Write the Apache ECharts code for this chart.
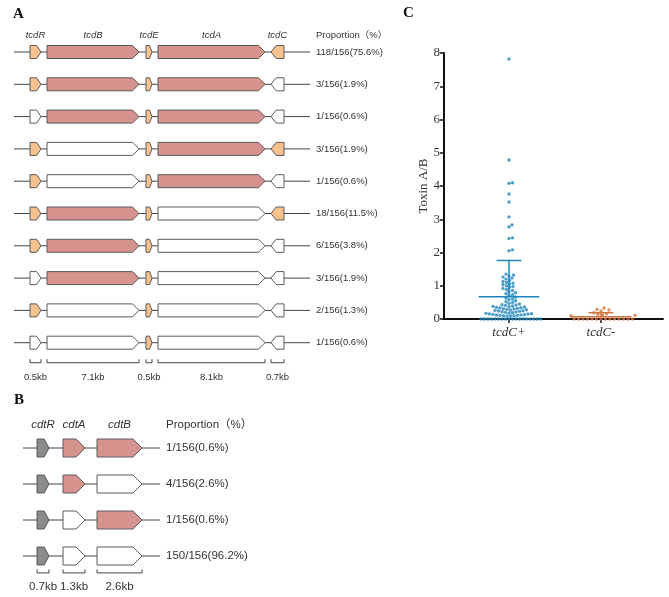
<!DOCTYPE html>
<html><head><meta charset="utf-8">
<script src="https://cdn.jsdelivr.net/npm/echarts@6/dist/echarts.min.js"></script>
<style>html,body{margin:0;padding:0;background:#fff}#c{width:669px;height:597px}</style>
</head><body><div id="c"></div>
<script>
// ---------- Panel A: tcd locus ----------
const tcdGenes = ['tcdR', 'tcdB', 'tcdE', 'tcdA', 'tcdC'];
const tcdSizes = ['0.5kb', '7.1kb', '0.5kb', '8.1kb', '0.7kb'];
const tcdKind = ['reg', 'toxin', 'reg', 'toxin', 'reg'];
const tcdStrand = [1, 1, 1, 1, -1];
const tcdProportion = ['118/156(75.6%)', '3/156(1.9%)', '1/156(0.6%)', '3/156(1.9%)', '1/156(0.6%)',
  '18/156(11.5%)', '6/156(3.8%)', '3/156(1.9%)', '2/156(1.3%)', '1/156(0.6%)'];
const tcdPresence = [
  [1, 1, 1, 1, 1], [1, 1, 1, 1, 0], [0, 1, 1, 1, 0], [1, 0, 1, 1, 1], [1, 0, 1, 1, 0],
  [1, 1, 1, 0, 1], [1, 1, 1, 0, 0], [0, 1, 1, 0, 0], [1, 0, 1, 0, 0], [0, 0, 1, 0, 0]];

// ---------- Panel B: cdt locus ----------
const cdtGenes = ['cdtR', 'cdtA', 'cdtB'];
const cdtSizes = ['0.7kb', '1.3kb', '2.6kb'];
const cdtKind = ['grey', 'toxin', 'toxin'];
const cdtStrand = [1, 1, 1];
const cdtProportion = ['1/156(0.6%)', '4/156(2.6%)', '1/156(0.6%)', '150/156(96.2%)'];
const cdtPresence = [[1, 1, 1], [1, 1, 0], [1, 0, 1], [1, 0, 0]];

// ---------- Panel C: toxin A/B ----------
const groups = ['tcdC+', 'tcdC-'];
const toxinPos = [
  7.82, 4.78, 4.10, 4.08, 3.76, 3.52, 3.07, 2.83, 2.77, 2.44, 2.42, 2.08, 2.05,
  1.35, 1.32, 1.29, 1.26, 1.23, 1.20, 1.16, 1.13, 1.10, 1.08, 1.05, 1.03, 1.00, 0.98, 0.95, 0.92, 0.89, 0.86, 0.82, 0.79, 0.76, 0.73, 0.70,
  0.66, 0.63, 0.60, 0.58, 0.55, 0.52, 0.50, 0.47, 0.45, 0.43, 0.42, 0.41, 0.39, 0.38, 0.37, 0.36, 0.35, 0.34, 0.33, 0.32, 0.31,
  0.30, 0.29, 0.28, 0.27, 0.26, 0.25, 0.24, 0.23, 0.22, 0.21, 0.20, 0.19, 0.18, 0.17, 0.16, 0.15, 0.15, 0.14, 0.13, 0.12,
  0.12, 0.11, 0.11, 0.10, 0.10, 0.09, 0.09,
  0, 0, 0, 0, 0, 0, 0, 0, 0, 0, 0, 0, 0, 0, 0, 0, 0, 0];
const toxinNeg = [0.33, 0.29, 0.27, 0.24, 0.19, 0.16, 0.14, 0.12, 0.11, 0.10,
  0, 0, 0, 0, 0, 0, 0, 0, 0, 0, 0, 0, 0, 0];
const groupMean = [0.67, 0.07];
const groupSdTop = [1.76, 0.19];
const yTicks = [0, 1, 2, 3, 4, 5, 6, 7, 8];

// ---------- styles / layout (not data) ----------
const COL = { toxin: '#d6938d', reg: '#f8c18e', grey: '#8c8c8c', off: '#ffffff', stroke: '#5a5a5a', line: '#444' };
const SANS = '"Liberation Sans", Arial, "Noto Sans CJK SC", sans-serif';
const SERIF = '"Liberation Serif", "Times New Roman", serif';
const groupColor = ['#1f84ba', '#d2723e'];

const layoutA = {
  grid: 0, start: [30, 47, 146, 158, 271], end: [41, 139, 152, 265, 284],
  lineFrom: 14, lineTo: 310, textX: 316, half: 6.5,
  headerV: 0.48, bracketV: 10.62, labelV: 11.08, font: 9.5, headFont: 9.5,
  genes: tcdGenes, sizes: tcdSizes, kind: tcdKind, strand: tcdStrand, presence: tcdPresence, proportion: tcdProportion
};
const layoutB = {
  grid: 1, start: [37, 63, 97], end: [49, 85, 142],
  lineFrom: 23, lineTo: 160, textX: 166, half: 9,
  headerV: 0.36, bracketV: 4.47, labelV: 4.87, font: 11.5, headFont: 11.5,
  genes: cdtGenes, sizes: cdtSizes, kind: cdtKind, strand: cdtStrand, presence: cdtPresence, proportion: cdtProportion
};

function genePoly(x0, x1, yc, half, strand) {
  const w = x1 - x0;
  const head = Math.min(half, w * 0.4);
  if (strand > 0) return [[x0, yc - half], [x1 - head, yc - half], [x1, yc], [x1 - head, yc + half], [x0, yc + half]];
  return [[x0, yc], [x0 + head, yc - half], [x1, yc - half], [x1, yc + half], [x0 + head, yc + half]];
}
function txt(x, y, text, size, opts) {
  return {
    type: 'text', x: x, y: y,
    style: Object.assign({ text: text, fill: '#333', fontSize: size, fontFamily: SANS,
      align: 'left', verticalAlign: 'middle', textAlign: 'left', textVerticalAlign: 'middle' }, opts || {})
  };
}

function panelSeries(L) {
  const rowsData = L.presence.map((_, r) => [0, r + 1]);
  const geneData = [];
  L.presence.forEach((row, r) => row.forEach((p, g) => geneData.push([g, r + 1, p])));
  const headData = L.genes.map((_, g) => [g, 0]).concat([[L.genes.length, 0]]);
  const common = { type: 'custom', coordinateSystem: 'cartesian2d', xAxisIndex: L.grid, yAxisIndex: L.grid, silent: true, clip: false };
  return [
    Object.assign({}, common, {
      data: rowsData, z: 1,
      renderItem: (params, api) => {
        const r = api.value(1);
        const a = api.coord([L.lineFrom, r]), b = api.coord([L.lineTo, r]), t = api.coord([L.textX, r]);
        return { type: 'group', children: [
          { type: 'line', shape: { x1: a[0], y1: a[1], x2: b[0], y2: b[1] }, style: { stroke: COL.line, lineWidth: 1 } },
          txt(t[0], t[1], L.proportion[r - 1], L.font)
        ] };
      }
    }),
    Object.assign({}, common, {
      data: geneData, z: 2,
      renderItem: (params, api) => {
        const g = api.value(0), r = api.value(1), p = api.value(2);
        const a = api.coord([L.start[g], r]), b = api.coord([L.end[g], r]);
        return { type: 'polygon', shape: { points: genePoly(a[0], b[0], a[1], L.half, L.strand[g]) },
          style: { fill: p ? COL[L.kind[g]] : COL.off, stroke: COL.stroke, lineWidth: 1 } };
      }
    }),
    Object.assign({}, common, {
      data: headData, z: 3,
      renderItem: (params, api) => {
        const g = api.value(0);
        if (g === L.genes.length) {
          const t = api.coord([L.textX, L.headerV]);
          return txt(t[0], t[1], 'Proportion（%）', L.headFont);
        }
        const h = api.coord([(L.start[g] + L.end[g]) / 2, L.headerV]);
        const b0 = api.coord([L.start[g], L.bracketV]), b1 = api.coord([L.end[g], L.bracketV]);
        const lb = api.coord([(L.start[g] + L.end[g]) / 2, L.labelV]);
        return { type: 'group', children: [
          txt(h[0], h[1], L.genes[g], L.headFont, { align: 'center', textAlign: 'center', fontStyle: 'italic' }),
          { type: 'polyline', shape: { points: [[b0[0], b0[1] - 3.5], [b0[0], b0[1]], [b1[0], b1[1]], [b1[0], b1[1] - 3.5]] },
            style: { stroke: '#444', lineWidth: 1, fill: null } },
          txt(lb[0], lb[1], L.sizes[g], L.font, { align: 'center', textAlign: 'center' })
        ] };
      }
    })
  ];
}

// beeswarm layout (pixel space -> axis units)
const gridC = { left: 444, top: 53, width: 219, height: 266 };
const xMinC = -0.7065, xMaxC = xMinC + 219 / 92;
const pxX = gridC.width / (xMaxC - xMinC), pxY = gridC.height / 8;
function swarm(values, gi, d) {
  const sorted = values.slice().sort((a, b) => a - b);
  const placed = [], out = [];
  sorted.forEach(v => {
    const yp = v * pxY;
    let k = 0, off = 0;
    while (true) {
      off = (k === 0 ? 0 : (k % 2 ? 1 : -1) * Math.ceil(k / 2) * 0.5);
      let ok = true;
      for (const q of placed) {
        const dx = q[0] - off, dy = q[1] - yp;
        if (dx * dx + dy * dy < d * d) { ok = false; break; }
      }
      if (ok) break;
      k++;
    }
    placed.push([off, yp]);
    out.push([gi + off / pxX, v]);
  });
  return out;
}

const chart = echarts.init(document.getElementById('c'), null, { renderer: 'canvas' });
const titleStyle = { fontFamily: SERIF, fontWeight: 'bold', fontSize: 15, color: '#111' };
const option = {
  animation: false,
  backgroundColor: '#fff',
  title: [
    { text: 'A', left: 13, top: 7, padding: 0, textStyle: titleStyle },
    { text: 'B', left: 14, top: 393, padding: 0, textStyle: titleStyle },
    { text: 'C', left: 403, top: 6, padding: 0, textStyle: titleStyle }
  ],
  grid: [
    { left: 0, top: 19.7, width: 310, height: 12 * 32.3 },
    { left: 0, top: 412, width: 310, height: 5 * 36 },
    gridC
  ],
  xAxis: [
    { gridIndex: 0, type: 'value', min: 0, max: 310, show: false },
    { gridIndex: 1, type: 'value', min: 0, max: 310, show: false },
    { gridIndex: 2, type: 'value', min: xMinC, max: xMaxC, splitLine: { show: false },
      axisLine: { onZero: false, lineStyle: { color: '#111', width: 2 } },
      axisTick: { show: true, customValues: [0, 1], length: 4, lineStyle: { color: '#111', width: 1.5 } },
      axisLabel: { customValues: [0, 1], formatter: v => groups[Math.round(v)], fontFamily: SERIF, fontStyle: 'italic', fontSize: 13, color: '#333', margin: 7 } }
  ],
  yAxis: [
    { gridIndex: 0, type: 'value', min: 0, max: 12, inverse: true, show: false },
    { gridIndex: 1, type: 'value', min: 0, max: 5, inverse: true, show: false },
    { gridIndex: 2, type: 'value', min: yTicks[0], max: yTicks[yTicks.length - 1], interval: 1,
      name: 'Toxin A/B', nameLocation: 'middle', nameGap: 14,
      nameTextStyle: { fontFamily: SERIF, fontSize: 13, color: '#333' },
      splitLine: { show: false },
      axisLine: { show: true, onZero: false, lineStyle: { color: '#111', width: 2 } },
      axisTick: { show: true, length: 4, lineStyle: { color: '#111', width: 1.5 } },
      axisLabel: { fontFamily: SERIF, fontSize: 13, color: '#333', margin: 4 } }
  ],
  series: [
    ...panelSeries(layoutA),
    ...panelSeries(layoutB),
    {
      type: 'custom', coordinateSystem: 'cartesian2d', xAxisIndex: 2, yAxisIndex: 2, silent: true, z: 2,
      data: groups.map((_, i) => [i, groupMean[i], groupSdTop[i]]),
      renderItem: (params, api) => {
        const i = api.value(0);
        const m0 = api.coord([i - 0.33, api.value(1)]), m1 = api.coord([i + 0.33, api.value(1)]);
        const s0 = api.coord([i - 0.135, api.value(2)]), s1 = api.coord([i + 0.135, api.value(2)]);
        const c0 = api.coord([i, api.value(1)]), c1 = api.coord([i, api.value(2)]);
        const st = { stroke: groupColor[i], lineWidth: 1.5 };
        return { type: 'group', children: [
          { type: 'line', shape: { x1: m0[0], y1: m0[1], x2: m1[0], y2: m1[1] }, style: st },
          { type: 'line', shape: { x1: s0[0], y1: s0[1], x2: s1[0], y2: s1[1] }, style: st },
          { type: 'line', shape: { x1: c0[0], y1: c0[1], x2: c1[0], y2: c1[1] }, style: st }
        ] };
      }
    },
    { type: 'scatter', xAxisIndex: 2, yAxisIndex: 2, symbol: 'circle', symbolSize: 3.4, z: 3,
      itemStyle: { color: groupColor[0] }, data: swarm(toxinPos, 0, 3.3) },
    { type: 'scatter', xAxisIndex: 2, yAxisIndex: 2, symbol: 'circle', symbolSize: 3.4, z: 3,
      itemStyle: { color: groupColor[1] }, data: swarm(toxinNeg, 1, 4.2) }
  ]
};
chart.setOption(option);
</script>
</body></html>
